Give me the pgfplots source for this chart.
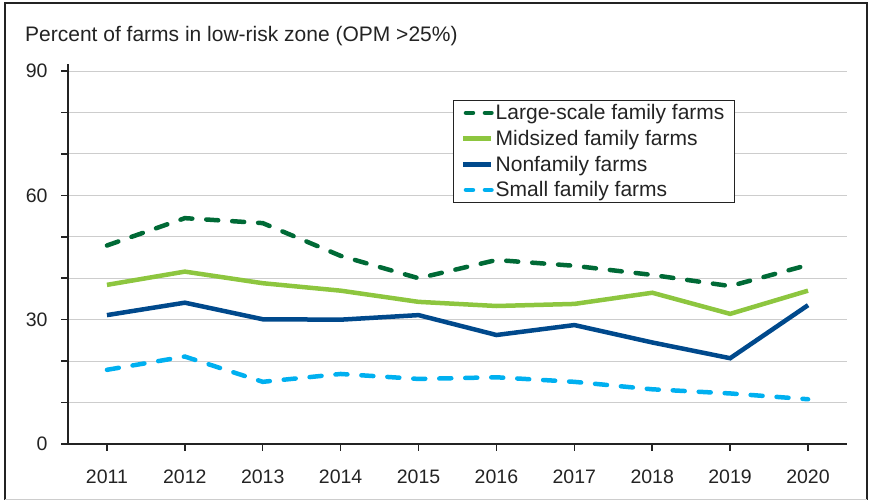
\documentclass[border=0pt]{standalone}
\usepackage{fontspec}
\setmainfont{Liberation Sans}
\usepackage{pgfplots}
\pgfplotsset{compat=1.18}
\definecolor{dgreen}{RGB}{0,106,54}
\definecolor{lgreen}{RGB}{141,198,63}
\definecolor{dblue}{RGB}{0,73,140}
\definecolor{lblue}{RGB}{0,176,240}
\definecolor{gridc}{RGB}{205,205,205}
\definecolor{txt}{RGB}{35,35,35}
\begin{document}
\begin{tikzpicture}
\useasboundingbox (-68pt,-59pt) rectangle (802pt,444pt);
\draw[line width=2pt, color=txt] (-63pt,-56pt) -- (-63pt,441pt) -- (799pt,441pt) -- (799pt,-56pt);
\draw[line width=1pt, color=gridc] (-63pt,-56pt) -- (799pt,-56pt);
\node[anchor=base west, font=\fontsize{21}{25}\selectfont, text=txt, inner sep=0pt] at (-43pt,402pt) {Percent of farms in low-risk zone (OPM >25\%)};
\begin{axis}[
  at={(0pt,0pt)}, anchor=origin,
  scale only axis, width=779pt, height=380pt,
  xmin=2010.5, xmax=2020.5, ymin=0, ymax=91.7,
  axis lines*=left,
  axis line style={line width=2pt, color=txt},
  xtick={2011,...,2020},
  ytick={0,10,...,90},
  yticklabels={0,,,30,,,60,,,90},
  xticklabel style={/pgf/number format/1000 sep={}},
  /pgf/number format/assume math mode=true,
  tick label style={font=\fontsize{19.5}{23}\selectfont, text=txt},
  tick align=outside,
  major tick length=7pt,
  tick style={line width=1.5pt, color=txt},
  ymajorgrids,
  grid style={line width=1pt, color=gridc},
  yticklabel style={xshift=-10pt},
  xticklabel style={yshift=-15pt},
  clip=false,
  legend style={at={(0.494,0.905)}, anchor=north west, draw=txt, line width=0.8pt,
    font=\fontsize{21}{25}\selectfont, text=txt, row sep=5pt, inner xsep=8pt, inner ysep=2pt},
  legend cell align=left,
  legend image code/.code={\draw[#1] (0pt,0pt) -- (28pt,0pt);},
]
\addplot[dgreen, line width=4.5pt, line cap=round, dash pattern=on 12pt off 14pt,
  legend image post style={dash pattern=on 7pt off 12pt, dash phase=-2.5pt}] coordinates {
(2011,47.9) (2012,54.5) (2013,53.3) (2014,45.4) (2015,40.0) (2016,44.4) (2017,43.0) (2018,40.8) (2019,38.1) (2020,43.2)};
\addlegendentry{Large-scale family farms}
\addplot[lgreen, line width=4.5pt] coordinates {
(2011,38.4) (2012,41.6) (2013,38.8) (2014,37.0) (2015,34.3) (2016,33.3) (2017,33.8) (2018,36.5) (2019,31.4) (2020,37.0)};
\addlegendentry{Midsized family farms}
\addplot[dblue, line width=4.5pt] coordinates {
(2011,31.1) (2012,34.1) (2013,30.1) (2014,30.0) (2015,31.1) (2016,26.3) (2017,28.7) (2018,24.5) (2019,20.7) (2020,33.5)};
\addlegendentry{Nonfamily farms}
\addplot[lblue, line width=4.5pt, line cap=round, dash pattern=on 12pt off 14pt,
  legend image post style={dash pattern=on 7pt off 12pt, dash phase=-2.5pt}] coordinates {
(2011,17.9) (2012,21.1) (2013,15.0) (2014,16.9) (2015,15.7) (2016,16.1) (2017,15.0) (2018,13.2) (2019,12.2) (2020,10.8)};
\addlegendentry{Small family farms}
\end{axis}
\end{tikzpicture}
\end{document}
